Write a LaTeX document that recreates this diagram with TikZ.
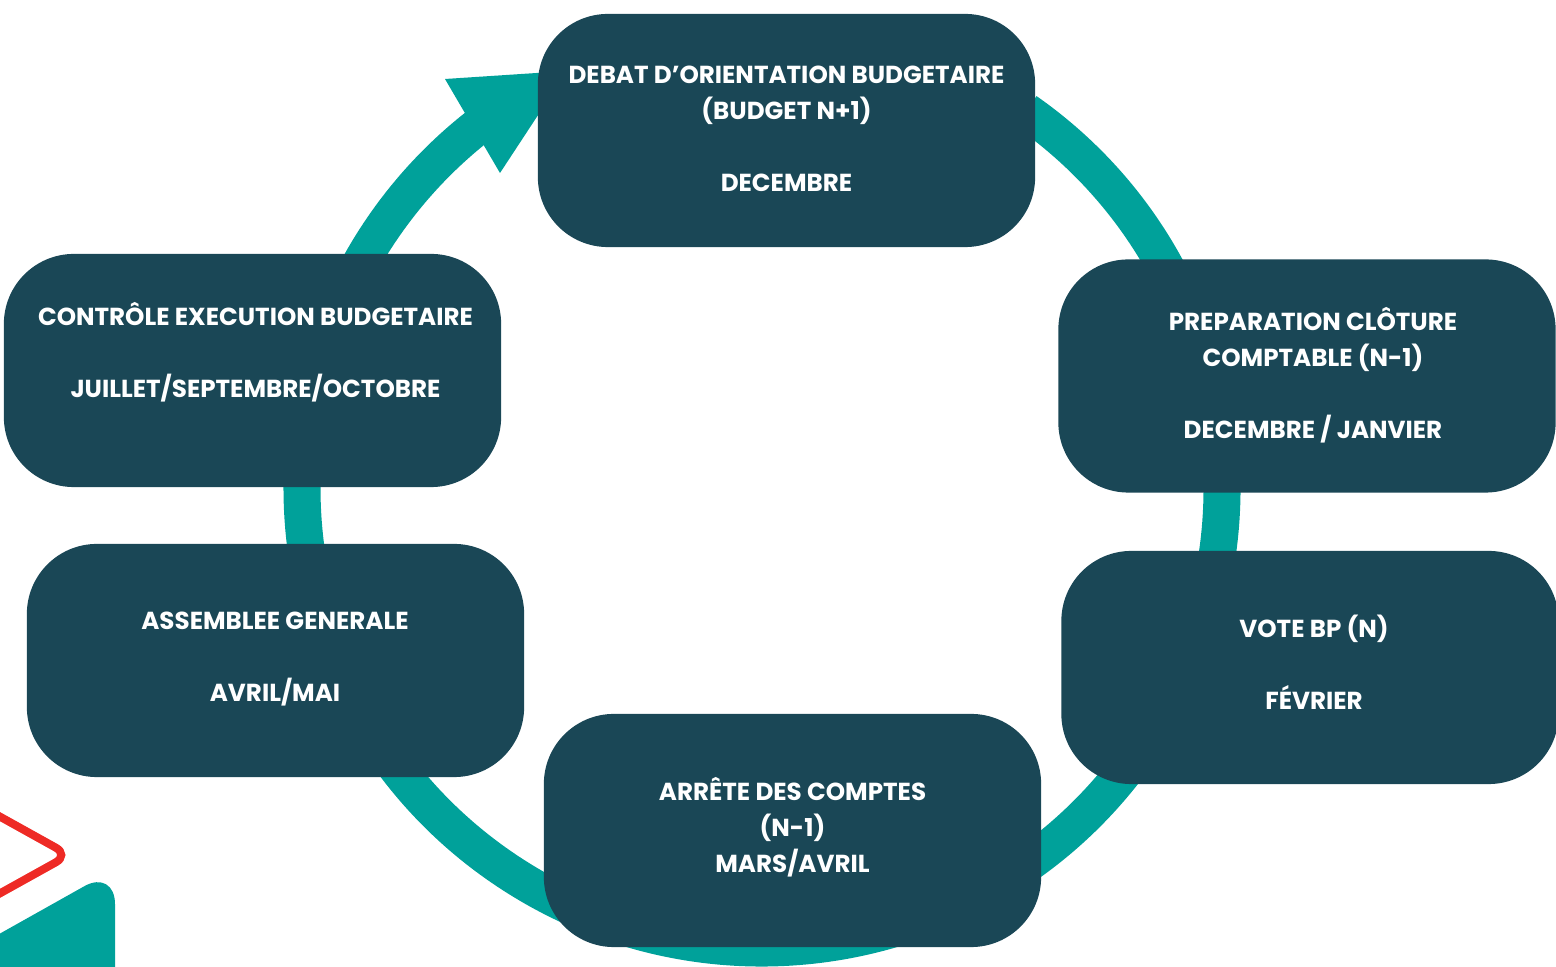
\documentclass[tikz,border=0pt]{standalone}
\usepackage{fontspec}
\setmainfont{Poppins}
\definecolor{boxc}{HTML}{1A4756}
\definecolor{ringc}{HTML}{00A19A}
\definecolor{redc}{HTML}{EE2A25}
\tikzset{
  stagebox/.style={fill=boxc, draw=none, rounded corners=0.7cm, minimum width=4.97cm, minimum height=2.33cm, inner sep=0pt},
  stagetext/.style={text=white, align=center, inner sep=0pt, font=\bfseries\fontsize{7}{10.2}\selectfont},
  ringband/.style={draw=ringc, line width=0.37cm},
}
\begin{document}
\begin{tikzpicture}[x=0.01cm,y=-0.01cm]
\useasboundingbox (0,0) rectangle (1556,967);
\clip (0,0) rectangle (1556,967);
% cycle ring
\coordinate (rc) at (762,488);
\draw[ringband] ([shift={(-55:460)}]rc) arc[start angle=-55, end angle=232, radius=460];
\fill[ringc] (445,79) -- (567,71) -- (500,173) -- cycle;
% stage boxes
\node[stagebox] (b1) at (786.5,130.5) {};
\node[stagebox] (b2) at (1307,376) {};
\node[stagebox] (b3) at (1310,667.5) {};
\node[stagebox] (b4) at (792.5,830.5) {};
\node[stagebox] (b5) at (275.5,660.5) {};
\node[stagebox] (b6) at (252.5,370.5) {};
% texts
\node[stagetext] (t1) at (786.5,129) {DEBAT D’ORIENTATION BUDGETAIRE\\(BUDGET N+1)\\[10.2pt]DECEMBRE};
\node[stagetext] (t2) at (1313,375) {PREPARATION CLÔTURE\\COMPTABLE (N-1)\\[10.2pt]DECEMBRE / JANVIER};
\node[stagetext] (t3) at (1314,662) {VOTE BP (N)\\[10.2pt]FÉVRIER};
\node[stagetext] (t4) at (792.5,827) {ARRÊTE DES COMPTES\\(N-1)\\MARS/AVRIL};
\node[stagetext] (t5) at (275,659) {ASSEMBLEE GENERALE\\[10.2pt]AVRIL/MAI};
\node[stagetext] (t6) at (255.5,352) {CONTRÔLE EXECUTION BUDGETAIRE\\[10.2pt]JUILLET/SEPTEMBRE/OCTOBRE};
% corner decorations
\draw[redc, line width=0.08cm, rounded corners=0.15cm] (-30,800) -- (69,855) -- (-30,910);
\fill[ringc, rounded corners=0.35cm] (-40,956) -- (115,869) -- (115,1050) -- (-40,1050) -- cycle;
\end{tikzpicture}
\end{document}
